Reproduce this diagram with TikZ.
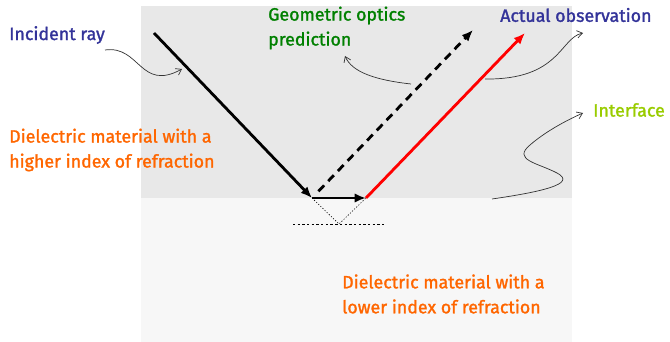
\documentclass[tikz,border=0pt]{standalone}
\usepackage{fontspec}
\setmainfont{Fira Sans}[RawFeature={embolden=1.5}]
\usetikzlibrary{arrows.meta,positioning,calc}
\definecolor{navyink}{RGB}{51,51,153}
\definecolor{greenink}{RGB}{0,128,0}
\definecolor{limeink}{RGB}{153,204,0}
\definecolor{orangeink}{RGB}{255,102,0}

\begin{document}
\begin{tikzpicture}[
  x=0.03cm, y=-0.03cm,
  font=\fontsize{15.2}{21.3}\selectfont,
  ray/.style={line width=2.4pt,-{Latex[length=3.4mm,width=2.8mm]}},
  note/.style={line width=0.6pt,draw=black!80,-{Straight Barb[length=1.6mm,width=2.2mm]}},
  guide/.style={line width=0.5pt,dash pattern=on 2pt off 2pt},
  lbl/.style={anchor=west,align=left,inner sep=0pt}
]
\useasboundingbox (0,0) rectangle (670,342);

% ================= media =================
\fill[black!9]  (141,6) rectangle (572,198);
\fill[black!3]  (141,198) rectangle (572,342);

% ================= rays =================
\coordinate (src)  at (154,33);
\coordinate (hit)  at (312,198);
\coordinate (exit) at (366,198);
\coordinate (geo)  at (473,30);
\coordinate (obs)  at (525,33);
\coordinate (apex) at (339,224);
\coordinate (nl)   at (293,224);
\coordinate (nr)   at (384,224);

\draw[ray] (src) -- (hit);
\draw[ray] (hit) -- (exit);
\draw[ray,draw=red,fill=red] (exit) -- (obs);
\draw[ray,dashed,dash pattern=on 7pt off 5pt] ($(hit)!0.04!(geo)$) -- (geo);

% evanescent path below the interface
\draw[guide,dash pattern=on 1pt off 1.5pt] (hit) -- (apex) -- (exit);
\draw[guide] (nl) -- (nr);

% ================= labels =================
\node[lbl,text=navyink] (inc) at (9,35) {Incident ray};
\node[lbl,text=greenink] (pred) at (268,28) {Geometric optics\\prediction};
\node[lbl,text=navyink] (act) at (500,15) {Actual observation};
\node[lbl,text=limeink] (intf) at (593,110) {Interface};
\node[lbl,text=orangeink] (hi) at (9,150) {Dielectric material with a\\higher index of refraction};
\node[lbl,text=orangeink] (lo) at (342,294) {Dielectric material with a\\lower index of refraction};

% ================= pointers =================
\coordinate (incT) at (105,50);  \coordinate (incA) at (182,69);
\coordinate (geoA) at (411,84);  \coordinate (geoT) at (345,56);
\coordinate (obsA) at (485,79);  \coordinate (obsT) at (583,33);
\coordinate (intA) at (492,199); \coordinate (intT) at (583,113);

\draw[note] (incT) .. controls (140,45) and (140,92) .. (incA);
\draw[note] (geoA) .. controls (375,80) and (352,72) .. (geoT);
\draw[note] (obsA) .. controls (560,80) and (560,38) .. (obsT);
\draw[note] (intA) .. controls (540,192) and (578,184) .. (557,173)
  .. controls (538,163) and (512,160) .. (530,145)
  .. controls (545,132) and (565,121) .. (intT);

\end{tikzpicture}
\end{document}
